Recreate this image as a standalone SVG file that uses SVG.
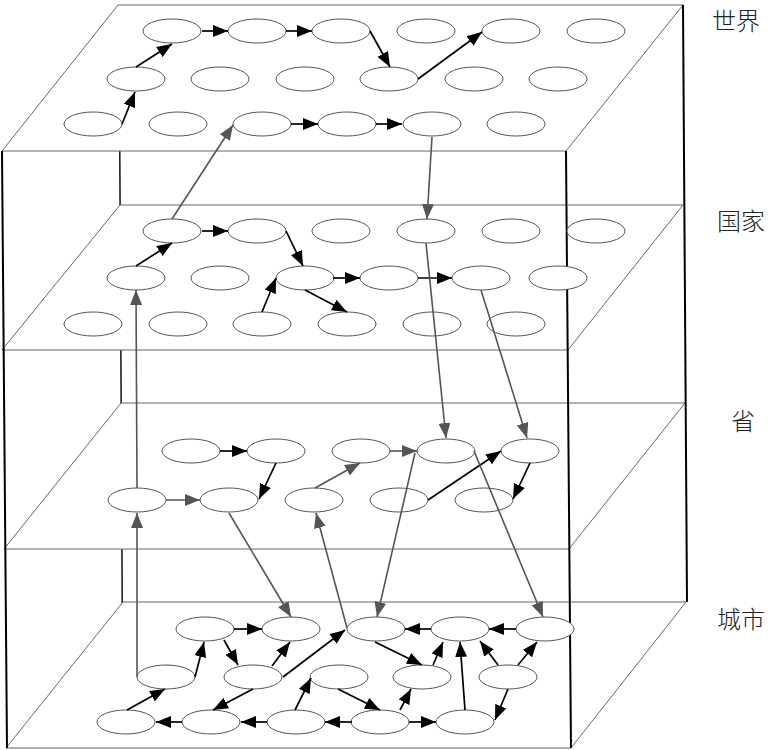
<svg xmlns="http://www.w3.org/2000/svg" width="784" height="750" viewBox="0 0 784 750">
<defs>
<marker id="ab" markerUnits="userSpaceOnUse" markerWidth="15" markerHeight="12" refX="15" refY="6" orient="auto"><path d="M0,0 L15,6 L0,12 z" fill="#000"/></marker>
<marker id="ag" markerUnits="userSpaceOnUse" markerWidth="15" markerHeight="12" refX="15" refY="6" orient="auto"><path d="M0,0 L15,6 L0,12 z" fill="#555"/></marker>
</defs>
<style>
.layer{fill:#fff;stroke:#666;stroke-width:1}
.edge{stroke:#000;stroke-width:2;fill:none}
.edgeb{stroke:#111;stroke-width:1.5;fill:none}
ellipse{fill:#fff;stroke:#555;stroke-width:1}
.a{stroke:#000;stroke-width:1.7;fill:none;marker-end:url(#ab)}
.g{stroke:#555;stroke-width:1.6;fill:none;marker-end:url(#ag)}
.lbl{font-family:"Noto Sans CJK SC","Liberation Serif",serif;font-size:24px;fill:#222;font-weight:300}
</style>
<rect width="784" height="750" fill="#fff"/>
<g id="frame-back">
<line class="edgeb" x1="119" y1="5" x2="123" y2="748"/>
</g>
<g id="layers">
<polygon class="layer" points="118,5 683,5 566,151 2,151"/>
<polygon class="layer" points="120,205 683,205 568,350 2,350"/>
<polygon class="layer" points="121,403 685,403 569,549 4,549"/>
<polygon class="layer" points="123,602 686,602 571,748 6,748"/>
</g>
<g id="frame-front">
<line class="edge" x1="2" y1="151" x2="7" y2="748"/>
<line class="edge" x1="566" y1="151" x2="571" y2="748"/>
<line class="edge" x1="683" y1="5" x2="687" y2="602"/>
</g>
<g id="world">
<g id="w11"><ellipse cx="172" cy="31" rx="29" ry="12"/></g>
<g id="w12"><ellipse cx="257" cy="31" rx="29" ry="12"/></g>
<g id="w13"><ellipse cx="341" cy="31" rx="29" ry="12"/></g>
<g id="w14"><ellipse cx="426" cy="31" rx="29" ry="12"/></g>
<g id="w15"><ellipse cx="511" cy="31" rx="29" ry="12"/></g>
<g id="w16"><ellipse cx="596" cy="31" rx="29" ry="12"/></g>
<g id="w21"><ellipse cx="136" cy="79" rx="29" ry="12"/></g>
<g id="w22"><ellipse cx="220" cy="79" rx="29" ry="12"/></g>
<g id="w23"><ellipse cx="305" cy="79" rx="29" ry="12"/></g>
<g id="w24"><ellipse cx="389" cy="79" rx="29" ry="12"/></g>
<g id="w25"><ellipse cx="474" cy="79" rx="29" ry="12"/></g>
<g id="w26"><ellipse cx="558" cy="79" rx="29" ry="12"/></g>
<g id="w31"><ellipse cx="93" cy="124" rx="29" ry="12"/></g>
<g id="w32"><ellipse cx="178" cy="124" rx="29" ry="12"/></g>
<g id="w33"><ellipse cx="262" cy="124" rx="29" ry="12"/></g>
<g id="w34"><ellipse cx="347" cy="124" rx="29" ry="12"/></g>
<g id="w35"><ellipse cx="432" cy="124" rx="29" ry="12"/></g>
<g id="w36"><ellipse cx="516" cy="124" rx="29" ry="12"/></g>
</g>
<g id="country">
<g id="c11"><ellipse cx="172" cy="231" rx="29" ry="12"/></g>
<g id="c12"><ellipse cx="257" cy="231" rx="29" ry="12"/></g>
<g id="c13"><ellipse cx="341" cy="231" rx="29" ry="12"/></g>
<g id="c14"><ellipse cx="426" cy="231" rx="29" ry="12"/></g>
<g id="c15"><ellipse cx="511" cy="231" rx="29" ry="12"/></g>
<g id="c16"><ellipse cx="596" cy="231" rx="29" ry="12"/></g>
<g id="c21"><ellipse cx="136" cy="278" rx="29" ry="12"/></g>
<g id="c22"><ellipse cx="220" cy="278" rx="29" ry="12"/></g>
<g id="c23"><ellipse cx="305" cy="278" rx="29" ry="12"/></g>
<g id="c24"><ellipse cx="389" cy="278" rx="29" ry="12"/></g>
<g id="c25"><ellipse cx="481" cy="278" rx="29" ry="12"/></g>
<g id="c26"><ellipse cx="558" cy="278" rx="29" ry="12"/></g>
<g id="c31"><ellipse cx="93" cy="324" rx="29" ry="12"/></g>
<g id="c32"><ellipse cx="178" cy="324" rx="29" ry="12"/></g>
<g id="c33"><ellipse cx="262" cy="324" rx="29" ry="12"/></g>
<g id="c34"><ellipse cx="347" cy="324" rx="29" ry="12"/></g>
<g id="c35"><ellipse cx="432" cy="324" rx="29" ry="12"/></g>
<g id="c36"><ellipse cx="516" cy="324" rx="29" ry="12"/></g>
</g>
<g id="province">
<g id="p11"><ellipse cx="191" cy="451" rx="29" ry="12"/></g>
<g id="p12"><ellipse cx="276" cy="451" rx="29" ry="12"/></g>
<g id="p13"><ellipse cx="361" cy="451" rx="29" ry="12"/></g>
<g id="p14"><ellipse cx="446" cy="451" rx="29" ry="12"/></g>
<g id="p15"><ellipse cx="530" cy="451" rx="29" ry="12"/></g>
<g id="p21"><ellipse cx="137" cy="500" rx="29" ry="12"/></g>
<g id="p22"><ellipse cx="229" cy="500" rx="29" ry="12"/></g>
<g id="p23"><ellipse cx="314" cy="500" rx="29" ry="12"/></g>
<g id="p24"><ellipse cx="399" cy="500" rx="29" ry="12"/></g>
<g id="p25"><ellipse cx="484" cy="500" rx="29" ry="12"/></g>
</g>
<g id="city">
<g id="t11"><ellipse cx="205" cy="629" rx="29" ry="12"/></g>
<g id="t12"><ellipse cx="291" cy="629" rx="29" ry="12"/></g>
<g id="t13"><ellipse cx="376" cy="629" rx="29" ry="12"/></g>
<g id="t14"><ellipse cx="460" cy="629" rx="29" ry="12"/></g>
<g id="t15"><ellipse cx="545" cy="629" rx="29" ry="12"/></g>
<g id="t21"><ellipse cx="166" cy="677" rx="29" ry="12"/></g>
<g id="t22"><ellipse cx="253" cy="677" rx="29" ry="12"/></g>
<g id="t23"><ellipse cx="339" cy="677" rx="29" ry="12"/></g>
<g id="t24"><ellipse cx="422" cy="677" rx="29" ry="12"/></g>
<g id="t25"><ellipse cx="508" cy="677" rx="29" ry="12"/></g>
<g id="t31"><ellipse cx="126" cy="722" rx="29" ry="12"/></g>
<g id="t32"><ellipse cx="211" cy="722" rx="29" ry="12"/></g>
<g id="t33"><ellipse cx="296" cy="722" rx="29" ry="12"/></g>
<g id="t34"><ellipse cx="380" cy="722" rx="29" ry="12"/></g>
<g id="t35"><ellipse cx="465" cy="722" rx="29" ry="12"/></g>
</g>
<g id="connectors">
<line class="a" x1="122" y1="124" x2="135" y2="92"/>
<line class="a" x1="136" y1="67" x2="172" y2="44"/>
<line class="a" x1="202" y1="31" x2="228" y2="31"/>
<line class="a" x1="286" y1="31" x2="312" y2="31"/>
<line class="a" x1="370" y1="31" x2="390" y2="67"/>
<line class="a" x1="418" y1="79" x2="482" y2="32"/>
<line class="a" x1="291" y1="124" x2="318" y2="124"/>
<line class="a" x1="376" y1="124" x2="402" y2="124"/>
<line class="g" x1="172" y1="219" x2="233" y2="125"/>
<line class="g" x1="432" y1="137" x2="427" y2="219"/>
<line class="a" x1="136" y1="266" x2="172" y2="243"/>
<line class="a" x1="202" y1="231" x2="228" y2="231"/>
<line class="a" x1="286" y1="231" x2="303" y2="266"/>
<line class="a" x1="262" y1="312" x2="276" y2="278"/>
<line class="a" x1="305" y1="290" x2="347" y2="312"/>
<line class="a" x1="333" y1="278" x2="360" y2="278"/>
<line class="a" x1="418" y1="278" x2="452" y2="278"/>
<line class="g" x1="426" y1="243" x2="446" y2="438"/>
<line class="g" x1="481" y1="290" x2="527" y2="438"/>
<line class="g" x1="137" y1="488" x2="136" y2="290"/>
<line class="a" x1="220" y1="451" x2="247" y2="451"/>
<line class="a" x1="276" y1="463" x2="259" y2="499"/>
<line class="g" x1="166" y1="500" x2="200" y2="500"/>
<line class="g" x1="315" y1="488" x2="360" y2="463"/>
<line class="g" x1="390" y1="451" x2="417" y2="451"/>
<line class="a" x1="428" y1="500" x2="501" y2="451"/>
<line class="a" x1="530" y1="463" x2="513" y2="499"/>
<line class="g" x1="229" y1="513" x2="291" y2="617"/>
<line class="g" x1="347" y1="628" x2="316" y2="513"/>
<line class="g" x1="415" y1="453" x2="377" y2="617"/>
<line class="g" x1="474" y1="451" x2="543" y2="617"/>
<line class="g" x1="137" y1="677" x2="137" y2="513"/>
<line class="a" x1="234" y1="629" x2="262" y2="629"/>
<line class="a" x1="431" y1="629" x2="405" y2="629"/>
<line class="a" x1="516" y1="629" x2="489" y2="629"/>
<line class="a" x1="195" y1="677" x2="204" y2="642"/>
<line class="a" x1="224" y1="640" x2="238" y2="665"/>
<line class="a" x1="272" y1="666" x2="290" y2="642"/>
<line class="a" x1="283" y1="677" x2="345" y2="630"/>
<line class="a" x1="253" y1="689" x2="213" y2="710"/>
<line class="a" x1="127" y1="710" x2="165" y2="689"/>
<line class="a" x1="182" y1="722" x2="156" y2="722"/>
<line class="a" x1="267" y1="722" x2="241" y2="722"/>
<line class="a" x1="352" y1="722" x2="325" y2="722"/>
<line class="a" x1="295" y1="710" x2="311" y2="678"/>
<line class="a" x1="338" y1="689" x2="380" y2="710"/>
<line class="a" x1="375" y1="642" x2="422" y2="665"/>
<line class="a" x1="433" y1="665" x2="443" y2="642"/>
<line class="a" x1="400" y1="710" x2="411" y2="689"/>
<line class="a" x1="409" y1="722" x2="436" y2="722"/>
<line class="a" x1="465" y1="710" x2="460" y2="642"/>
<line class="a" x1="498" y1="665" x2="480" y2="641"/>
<line class="a" x1="518" y1="665" x2="537" y2="642"/>
<line class="a" x1="508" y1="689" x2="495" y2="720"/>
</g>
<g id="labels">
<text class="lbl" x="712" y="30">世界</text>
<text class="lbl" x="717" y="230">国家</text>
<text class="lbl" x="731" y="430">省</text>
<text class="lbl" x="717" y="628">城市</text>
</g>
</svg>
